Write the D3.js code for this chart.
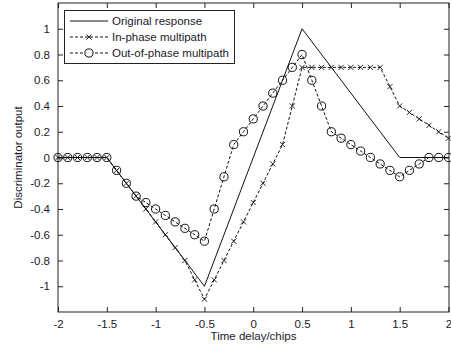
<!DOCTYPE html>
<html>
<head>
<meta charset="utf-8">
<script src="https://cdn.jsdelivr.net/npm/d3@7"></script>
<style>
  html, body { margin: 0; padding: 0; background: #fff; }
  svg { display: block; }
  text { font-family: "Liberation Sans", Arial, sans-serif; fill: #1a1a2a; }
</style>
</head>
<body>
<svg id="chart" width="451" height="346"></svg>
<script>
// Time delay samples (chips), step 0.1 from -2 to 2
const delays = [-2.0,-1.9,-1.8,-1.7,-1.6,-1.5,-1.4,-1.3,-1.2,-1.1,-1.0,-0.9,-0.8,-0.7,-0.6,-0.5,-0.4,-0.3,-0.2,-0.1,
  0.0,0.1,0.2,0.3,0.4,0.5,0.6,0.7,0.8,0.9,1.0,1.1,1.2,1.3,1.4,1.5,1.6,1.7,1.8,1.9,2.0];

// Original discriminator response (corner points)
const originalX = [-2, -1.5, -0.5, 0.5, 1.5, 2];
const originalY = [0, 0, -1, 1, 0, 0];

// In-phase multipath
const inPhase = [0,0,0,0,0,0,-0.1,-0.2,-0.3,-0.4,-0.5,-0.6,-0.7,-0.8,-0.95,-1.1,-0.95,-0.8,-0.65,-0.5,
  -0.35,-0.2,-0.05,0.1,0.4,0.7,0.7,0.7,0.7,0.7,0.7,0.7,0.7,0.7,0.55,0.4,0.35,0.3,0.25,0.2,0.15];

// Out-of-phase multipath
const outPhase = [0,0,0,0,0,0,-0.1,-0.2,-0.3,-0.35,-0.4,-0.45,-0.5,-0.55,-0.6,-0.65,-0.4,-0.15,0.1,0.2,
  0.3,0.4,0.5,0.6,0.7,0.8,0.6,0.4,0.2,0.15,0.1,0.05,0,-0.05,-0.1,-0.15,-0.1,-0.05,0,0,0];

const xTicks = [-2,-1.5,-1,-0.5,0,0.5,1,1.5,2];
const yTicks = [-1,-0.8,-0.6,-0.4,-0.2,0,0.2,0.4,0.6,0.8,1];
const legendLabels = ["Original response", "In-phase multipath", "Out-of-phase multipath"];

const svg = d3.select("#chart");
const mLeft = 58, mRight = 449, mTop = 3, mBottom = 312;
const fontSize = 11.5;

const x = d3.scaleLinear().domain([-2, 2]).range([mLeft, mRight - 0.5]);
const y = d3.scaleLinear().domain([-1.2, 1.2]).range([mBottom, mTop]);

const fmt = d => String(d);

// Axes with inward ticks
const tickLen = 5;
svg.append("g").attr("transform", `translate(0,${mBottom})`)
  .call(d3.axisBottom(x).tickValues(xTicks).tickFormat(fmt).tickSizeInner(-tickLen).tickSizeOuter(0).tickPadding(8));
svg.append("g").attr("transform", `translate(0,${mTop})`)
  .call(d3.axisTop(x).tickValues(xTicks).tickFormat("").tickSizeInner(-tickLen).tickSizeOuter(0));
svg.append("g").attr("transform", `translate(${mLeft},0)`)
  .call(d3.axisLeft(y).tickValues(yTicks).tickFormat(fmt).tickSizeInner(-tickLen).tickSizeOuter(0).tickPadding(8));
svg.append("g").attr("transform", `translate(${mRight},0)`)
  .call(d3.axisRight(y).tickValues(yTicks).tickFormat("").tickSizeInner(-tickLen).tickSizeOuter(0));

svg.selectAll(".domain").remove();
svg.selectAll(".tick line").attr("stroke", "#222");
svg.selectAll(".tick text").attr("font-size", fontSize).attr("fill", "#1a1a2a");

// Plot frame
svg.append("rect").attr("x", mLeft).attr("y", mTop)
  .attr("width", mRight - mLeft).attr("height", mBottom - mTop)
  .attr("fill", "none").attr("stroke", "#222").attr("stroke-width", 1);

const line = d3.line().x(d => x(d[0])).y(d => y(d[1]));

const plot = svg.append("g");

// Original response
plot.append("path")
  .datum(originalX.map((v, i) => [v, originalY[i]]))
  .attr("d", line).attr("fill", "none").attr("stroke", "#111").attr("stroke-width", 1);

// In-phase multipath: dashed with x markers
const inData = delays.map((v, i) => [v, inPhase[i]]);
plot.append("path").datum(inData).attr("d", line)
  .attr("fill", "none").attr("stroke", "#111").attr("stroke-width", 1).attr("stroke-dasharray", "3,2");
const xm = 2.6;
plot.selectAll(".xm").data(inData).join("path")
  .attr("class", "xm")
  .attr("d", d => `M${x(d[0]) - xm},${y(d[1]) - xm}L${x(d[0]) + xm},${y(d[1]) + xm}M${x(d[0]) - xm},${y(d[1]) + xm}L${x(d[0]) + xm},${y(d[1]) - xm}`)
  .attr("stroke", "#111").attr("stroke-width", 0.9);

// Out-of-phase multipath: dashed with circle markers
const outData = delays.map((v, i) => [v, outPhase[i]]);
plot.append("path").datum(outData).attr("d", line)
  .attr("fill", "none").attr("stroke", "#111").attr("stroke-width", 1).attr("stroke-dasharray", "3,2");
plot.selectAll(".om").data(outData).join("circle")
  .attr("class", "om")
  .attr("cx", d => x(d[0])).attr("cy", d => y(d[1])).attr("r", 4.1)
  .attr("fill", "none").attr("stroke", "#111").attr("stroke-width", 1);

// Axis titles
svg.append("text").attr("x", (mLeft + mRight) / 2).attr("y", 340)
  .attr("text-anchor", "middle").attr("font-size", fontSize).text("Time delay/chips");
svg.append("text").attr("transform", `translate(22,${(mTop + mBottom) / 2}) rotate(-90)`)
  .attr("text-anchor", "middle").attr("font-size", fontSize).text("Discriminator output");

// Legend
const lg = svg.append("g");
lg.append("rect").attr("x", 64.5).attr("y", 10.5).attr("width", 170).attr("height", 53)
  .attr("fill", "#fff").attr("stroke", "#222").attr("stroke-width", 1);
const rowsY = [21, 37, 53];
const lx0 = 70, lx1 = 108, lxm = 89;
legendLabels.forEach((lab, i) => {
  const ly = rowsY[i];
  lg.append("line").attr("x1", lx0).attr("x2", lx1).attr("y1", ly).attr("y2", ly)
    .attr("stroke", "#111").attr("stroke-width", 1)
    .attr("stroke-dasharray", i === 0 ? null : "3,2");
  if (i === 1) {
    lg.append("path")
      .attr("d", `M${lxm - xm},${ly - xm}L${lxm + xm},${ly + xm}M${lxm - xm},${ly + xm}L${lxm + xm},${ly - xm}`)
      .attr("stroke", "#111").attr("stroke-width", 0.9);
  } else if (i === 2) {
    lg.append("circle").attr("cx", lxm).attr("cy", ly).attr("r", 4.1)
      .attr("fill", "#fff").attr("stroke", "#111");
  }
  lg.append("text").attr("x", 112).attr("y", ly).attr("dy", "0.35em")
    .attr("font-size", fontSize).text(lab);
});
</script>
</body>
</html>
